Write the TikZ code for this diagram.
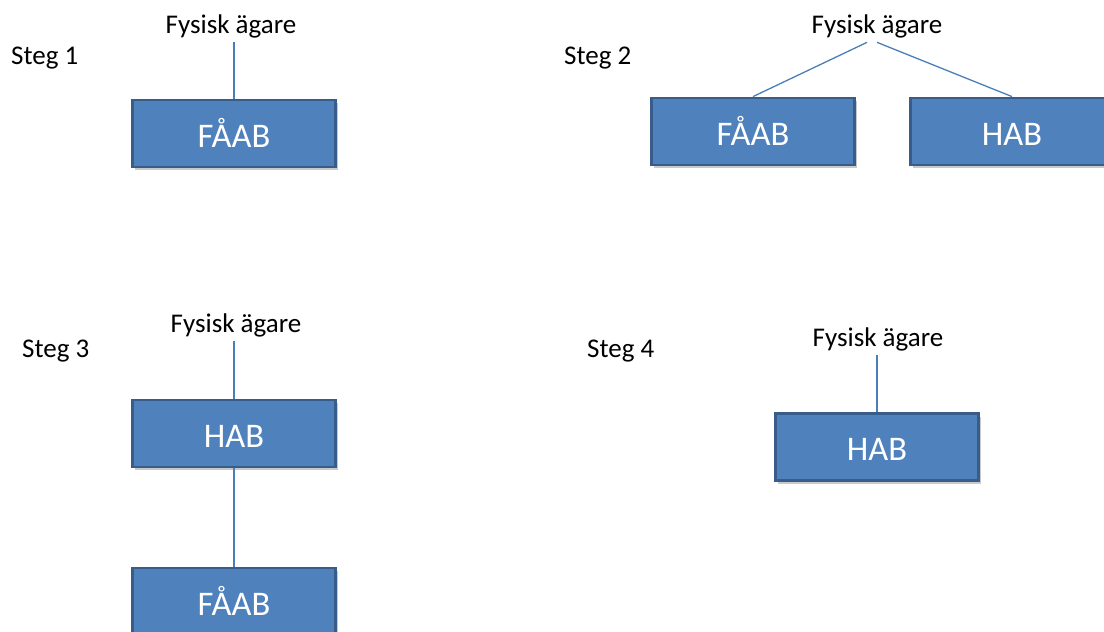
\documentclass[tikz,border=0pt]{standalone}
\usepackage{fontspec}
\setmainfont{Carlito}
\usetikzlibrary{shadows}
\definecolor{boxfill}{HTML}{4F81BD}
\definecolor{boxdraw}{HTML}{385D8A}
\definecolor{linkcol}{HTML}{4A7EBB}
\tikzset{
  entity/.style={draw=boxdraw, fill=boxfill, line width=2.8pt, minimum width=203pt, minimum height=67pt,
    inner sep=0pt, text=white, font=\fontsize{34.5}{40}\selectfont, text height=27pt, text depth=0pt,
    drop shadow={shadow xshift=2.5pt, shadow yshift=-3pt, opacity=0.35, fill=black!60}},
  owner/.style={anchor=base, inner sep=4.5pt, font=\fontsize{27}{32}\selectfont},
  steplabel/.style={anchor=base west, inner sep=0pt, font=\fontsize{27}{32}\selectfont},
  link/.style={draw=linkcol, line width=1.3pt}
}
\begin{document}
\begin{tikzpicture}[x=1pt,y=-1pt]
\useasboundingbox (0,0) rectangle (1104,632);
\clip (0,0) rectangle (1104,632);
\fill[white] (0,0) rectangle (1104,632);
% Steg 1
\node[steplabel] (s1) at (11,64) {Steg 1};
\node[owner] (o1) at (231,33) {Fysisk ägare};
\node[entity] (b1) at (234,133.5) {FÅAB};
\draw[link] (o1.south -| b1.north) -- (b1.north);
% Steg 2
\node[steplabel] (s2) at (564,64) {Steg 2};
\node[owner] (o2) at (877,33) {Fysisk ägare};
\node[entity] (b2a) at (753,131.5) {FÅAB};
\node[entity] (b2b) at (1012,131.5) {HAB};
\coordinate (o2l) at ([xshift=-10pt]o2.south);
\coordinate (o2r) at (o2.south);
\draw[link] (o2l) -- (b2a.north);
\draw[link] (o2r) -- (b2b.north);
% Steg 3
\node[steplabel] (s3) at (22,357) {Steg 3};
\node[owner] (o3) at (236,332) {Fysisk ägare};
\node[entity] (b3a) at (234,433.5) {HAB};
\node[entity] (b3b) at (234,601.5) {FÅAB};
\draw[link] (o3.south -| b3a.north) -- (b3a.north);
\draw[link] (b3a.south) -- (b3b.north);
% Steg 4
\node[steplabel] (s4) at (587,357) {Steg 4};
\node[owner] (o4) at (878,346) {Fysisk ägare};
\node[entity] (b4) at (877,447) {HAB};
\draw[link] (o4.south -| b4.north) -- (b4.north);
\end{tikzpicture}
\end{document}
